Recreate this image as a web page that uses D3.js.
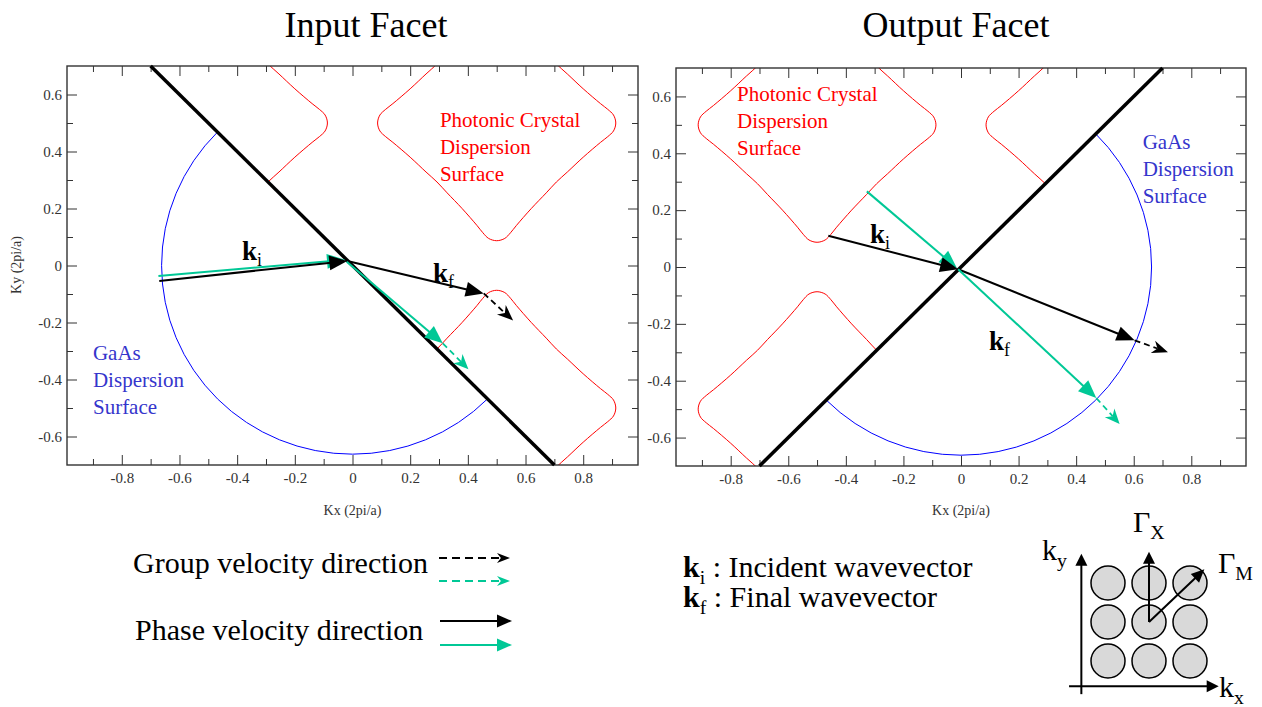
<!DOCTYPE html>
<html lang="en">
<head>
<meta charset="utf-8">
<title>Input / Output Facet</title>
<script src="https://cdn.jsdelivr.net/npm/d3@7"></script>
<style>
  body { margin:0; background:#fff; }
  svg text { font-family:"Liberation Serif","Times New Roman",serif; }
  .tick text { font-size:15px; fill:#333; }
  .tick line { stroke:#333; stroke-width:1; }
</style>
</head>
<body>
<script>
// axis ticks (2pi/a)
var xMajor = [-0.8, -0.6, -0.4, -0.2, 0, 0.2, 0.4, 0.6, 0.8];
var xMinor = [-0.9, -0.7, -0.5, -0.3, -0.1, 0.1, 0.3, 0.5, 0.7, 0.9];
var yMajor = [-0.6, -0.4, -0.2, 0, 0.2, 0.4, 0.6];
var yMinor = [-0.5, -0.3, -0.1, 0.1, 0.3, 0.5];
var xExtent = [-0.99, 0.99];
var yExtent = [-0.7, 0.7];

// photonic crystal iso-frequency contour, one quarter around an M point
var pcQuarter = [[0.413,0],[0.405,0.028],[0.385,0.048],[0.36,0.068],[0.30,0.12],[0.245,0.172],
                 [0.207,0.207],[0.172,0.245],[0.12,0.30],[0.068,0.36],[0.048,0.385],[0.028,0.405]];
var mPoints = [[0.5,0.5],[-0.5,0.5],[-0.5,-0.5],[0.5,-0.5]];
var gaasRadius = 0.662;

// input facet
var inFacet   = [[-0.7,0.7],[0.7,-0.7]];
var inBlackKi = [[-0.670,-0.054],[-0.018,0.016]];
var inGreenKi = [[-0.673,-0.037],[-0.026,0.020]];
var inBlackKf = [[-0.018,0.016],[0.455,-0.098]];
var inBlackVg = [[0.455,-0.098],[0.557,-0.193]];
var inGreenKf = [[-0.020,0.013],[0.313,-0.273]];
var inGreenVg = [[0.313,-0.273],[0.402,-0.364]];

// output facet
var outFacet   = [[-0.7,-0.7],[0.7,0.7]];
var outBlackKi = [[-0.461,0.110],[-0.010,-0.008]];
var outGreenKi = [[-0.327,0.266],[-0.014,-0.004]];
var outBlackKf = [[-0.010,-0.008],[0.603,-0.258]];
var outBlackVg = [[0.603,-0.258],[0.719,-0.300]];
var outGreenKf = [[-0.010,-0.008],[0.470,-0.461]];
var outGreenVg = [[0.470,-0.461],[0.551,-0.552]];

// lattice inset (lattice units)
var latticeCols = [0, 1, 2];
var latticeRows = [0, 1, 2];

var green = "#00c896", red = "#ff0000", blue = "#0000ff", gaasText = "#3535cc";

var w = 1262, h = 707;
var svg = d3.select("body").append("svg").attr("width", w).attr("height", h);

var defs = svg.append("defs");

function arrow(g, p1, p2, color, o) {
  o = o || {};
  var L = o.L || 18, W = o.W || 7.5, lw = o.width || 2;
  var dx = p2[0]-p1[0], dy = p2[1]-p1[1], len = Math.sqrt(dx*dx+dy*dy);
  var ux = dx/len, uy = dy/len, nx = -uy, ny = ux;
  var back = o.stealth ? 0.7*L : L*0.9;
  g.append("line")
    .attr("x1", p1[0]).attr("y1", p1[1])
    .attr("x2", p2[0]-back*ux).attr("y2", p2[1]-back*uy)
    .attr("stroke", color).attr("stroke-width", lw)
    .attr("stroke-dasharray", o.dash || null);
  var bx = p2[0]-L*ux, by = p2[1]-L*uy, pts;
  if (o.stealth) {
    pts = [[p2[0],p2[1]],[bx+W*nx,by+W*ny],[p2[0]-0.7*L*ux,p2[1]-0.7*L*uy],[bx-W*nx,by-W*ny]];
  } else {
    pts = [[p2[0],p2[1]],[bx+W*nx,by+W*ny],[bx-W*nx,by-W*ny]];
  }
  g.append("polygon").attr("points", pts.map(function(p){ return p.join(","); }).join(" "))
    .attr("fill", color);
}

function subLabel(g, x, y, main, sub, size, bold, rest) {
  var t = g.append("text").attr("x", x).attr("y", y).attr("font-size", size).attr("fill", "#000");
  t.append("tspan").attr("font-weight", bold ? "bold" : "normal").text(main);
  t.append("tspan").attr("font-size", size*0.66).attr("dy", size*0.22).text(sub);
  if (rest) t.append("tspan").attr("dy", -size*0.22).text(rest);
  return t;
}

function panel(id, box, cfg) {
  var x = d3.scaleLinear().domain(xExtent).range([box.x0, box.x1]);
  var y = d3.scaleLinear().domain(yExtent).range([box.y1, box.y0]);
  var g = svg.append("g");

  var toPts = function(arr){ return arr.map(function(d){ return [x(d[0]), y(d[1])].join(","); }).join(" "); };
  defs.append("clipPath").attr("id", id+"-red").append("polygon").attr("points", toPts(cfg.redSide));
  defs.append("clipPath").attr("id", id+"-blue").append("polygon").attr("points", toPts(cfg.blueSide));

  // photonic crystal contours
  var ring = [];
  [0,1,2,3].forEach(function(k){
    pcQuarter.forEach(function(p){
      var u = p[0], v = p[1];
      for (var i = 0; i < k; i++) { var t = u; u = -v; v = t; }
      ring.push([u, v]);
    });
  });
  var redG = g.append("g").attr("clip-path", "url(#"+id+"-red)");
  mPoints.forEach(function(c){
    var line = d3.line()
      .x(function(d){ return x(c[0]+d[0]); })
      .y(function(d){ return y(c[1]+d[1]); })
      .curve(d3.curveCatmullRomClosed.alpha(0.5));
    redG.append("path").attr("d", line(ring)).attr("fill", "none")
      .attr("stroke", red).attr("stroke-width", 1);
  });

  // GaAs circle
  g.append("g").attr("clip-path", "url(#"+id+"-blue)")
    .append("ellipse")
    .attr("cx", x(0)).attr("cy", y(0))
    .attr("rx", x(gaasRadius)-x(0)).attr("ry", y(0)-y(gaasRadius))
    .attr("fill", "none").attr("stroke", blue).attr("stroke-width", 1);

  // frame + axes
  var minor = function(ax, vals){ return ax.tickValues(vals).tickSize(-6).tickFormat(""); };
  var fmt = function(d){ return String(+d.toFixed(1)); };
  var clean = function(s){ s.select(".domain").remove(); };
  g.append("g").attr("transform", "translate(0,"+box.y1+")")
    .call(d3.axisBottom(x).tickValues(xMajor).tickSize(-10).tickPadding(7).tickFormat(fmt)).call(clean);
  g.append("g").attr("transform", "translate(0,"+box.y1+")").call(minor(d3.axisBottom(x), xMinor)).call(clean);
  g.append("g").attr("transform", "translate(0,"+box.y0+")")
    .call(d3.axisTop(x).tickValues(xMajor).tickSize(-10).tickFormat("")).call(clean);
  g.append("g").attr("transform", "translate(0,"+box.y0+")").call(minor(d3.axisTop(x), xMinor)).call(clean);
  g.append("g").attr("transform", "translate("+box.x0+",0)")
    .call(d3.axisLeft(y).tickValues(yMajor).tickSize(-10).tickPadding(5).tickFormat(fmt)).call(clean);
  g.append("g").attr("transform", "translate("+box.x0+",0)").call(minor(d3.axisLeft(y), yMinor)).call(clean);
  g.append("g").attr("transform", "translate("+box.x1+",0)")
    .call(d3.axisRight(y).tickValues(yMajor).tickSize(-10).tickFormat("")).call(clean);
  g.append("g").attr("transform", "translate("+box.x1+",0)").call(minor(d3.axisRight(y), yMinor)).call(clean);
  g.append("rect").attr("x", box.x0).attr("y", box.y0)
    .attr("width", box.x1-box.x0).attr("height", box.y1-box.y0)
    .attr("fill", "none").attr("stroke", "#333").attr("stroke-width", 1.4);

  g.append("text").attr("x", x(0)).attr("y", 515).attr("text-anchor", "middle")
    .attr("font-size", 14).attr("fill", "#333").text("Kx (2pi/a)");

  // facet
  g.append("line")
    .attr("x1", x(cfg.facet[0][0])).attr("y1", y(cfg.facet[0][1]))
    .attr("x2", x(cfg.facet[1][0])).attr("y2", y(cfg.facet[1][1]))
    .attr("stroke", "#000").attr("stroke-width", 3.5);

  // wavevectors
  var P = function(d){ return [x(d[0]), y(d[1])]; };
  arrow(g, P(cfg.greenKi[0]), P(cfg.greenKi[1]), green);
  arrow(g, P(cfg.blackKi[0]), P(cfg.blackKi[1]), "#000");
  arrow(g, P(cfg.blackKf[0]), P(cfg.blackKf[1]), "#000");
  arrow(g, P(cfg.greenKf[0]), P(cfg.greenKf[1]), green);
  arrow(g, P(cfg.blackVg[0]), P(cfg.blackVg[1]), "#000", {dash:"6,4", stealth:true, L:16, W:6.5, width:1.8});
  arrow(g, P(cfg.greenVg[0]), P(cfg.greenVg[1]), green, {dash:"6,4", stealth:true, L:15, W:6.5, width:1.8});

  subLabel(g, x(cfg.kiPos[0]), y(cfg.kiPos[1]), "k", "i", 27, true);
  subLabel(g, x(cfg.kfPos[0]), y(cfg.kfPos[1]), "k", "f", 27, true);

  // surface labels
  var pc = g.append("text").attr("font-size", 21).attr("fill", red);
  ["Photonic Crystal", "Dispersion", "Surface"].forEach(function(s, i){
    pc.append("tspan").attr("x", x(cfg.pcPos[0])).attr("y", y(cfg.pcPos[1]) + i*27).text(s);
  });
  var ga = g.append("text").attr("font-size", 21).attr("fill", gaasText);
  ["GaAs", "Dispersion", "Surface"].forEach(function(s, i){
    ga.append("tspan").attr("x", x(cfg.gaPos[0])).attr("y", y(cfg.gaPos[1]) + i*27).text(s);
  });
  return {x:x, y:y};
}

var inBox = {x0:67, x1:638, y0:66, y1:465};
var outBox = {x0:676, x1:1246, y0:68, y1:466};

panel("in", inBox, {
  facet: inFacet,
  redSide: [[-0.7,0.7],[0.99,0.7],[0.99,-0.7],[0.7,-0.7]],
  blueSide: [[-0.99,0.7],[-0.7,0.7],[0.7,-0.7],[-0.99,-0.7]],
  blackKi: inBlackKi, greenKi: inGreenKi, blackKf: inBlackKf, greenKf: inGreenKf,
  blackVg: inBlackVg, greenVg: inGreenVg,
  kiPos: [-0.383, 0.019], kfPos: [0.279, -0.057],
  pcPos: [0.303, 0.487], gaPos: [-0.90, -0.331]
});

panel("out", outBox, {
  facet: outFacet,
  redSide: [[-0.99,0.7],[0.7,0.7],[-0.7,-0.7],[-0.99,-0.7]],
  blueSide: [[0.7,0.7],[0.99,0.7],[0.99,-0.7],[-0.7,-0.7]],
  blackKi: outBlackKi, greenKi: outGreenKi, blackKf: outBlackKf, greenKf: outGreenKf,
  blackVg: outBlackVg, greenVg: outGreenVg,
  kiPos: [-0.316, 0.085], kfPos: [0.097, -0.291],
  pcPos: [-0.778, 0.583], gaPos: [0.631, 0.416]
});

svg.append("text").attr("transform", "translate(21,265) rotate(-90)")
  .attr("text-anchor", "middle").attr("font-size", 14).attr("fill", "#333").text("Ky (2pi/a)");

// titles
svg.append("text").attr("x", 366).attr("y", 37).attr("text-anchor", "middle")
  .attr("font-size", 36).text("Input Facet");
svg.append("text").attr("x", 956).attr("y", 37).attr("text-anchor", "middle")
  .attr("font-size", 36).text("Output Facet");

// legend
var lg = svg.append("g");
lg.append("text").attr("x", 133).attr("y", 573).attr("font-size", 30).text("Group velocity direction");
lg.append("text").attr("x", 135).attr("y", 640).attr("font-size", 30).text("Phase velocity direction");
arrow(lg, [439,558], [510,558], "#000", {dash:"8,5", stealth:true, L:13, W:5, width:1.8});
arrow(lg, [439,581], [510,581], green, {dash:"8,5", stealth:true, L:13, W:5, width:1.8});
arrow(lg, [440,621], [512,621], "#000", {L:15, W:6.5, width:2});
arrow(lg, [440,645], [512,645], green, {L:15, W:6.5, width:2});

subLabel(svg, 683, 577, "k", "i", 30, true, " : Incident wavevector");
subLabel(svg, 683, 607, "k", "f", 30, true, " : Final wavevector");

// lattice inset
var ix = d3.scaleLinear().domain([0, 2]).range([1108, 1190]);
var iy = d3.scaleLinear().domain([0, 2]).range([661, 583]);
var ins = svg.append("g");
latticeRows.forEach(function(r){
  latticeCols.forEach(function(c){
    ins.append("circle").attr("cx", ix(c)).attr("cy", iy(r)).attr("r", 17)
      .attr("fill", "#d9d9d9").attr("stroke", "#000").attr("stroke-width", 1.5);
  });
});
arrow(ins, [ix(-0.65), iy(-0.85)], [ix(-0.65), iy(2.75)], "#000", {L:12, W:6, width:2});
arrow(ins, [ix(-0.95), iy(-0.65)], [ix(2.7), iy(-0.65)], "#000", {L:12, W:6, width:2});
arrow(ins, [ix(1), iy(1)], [ix(1), iy(2.8)], "#000", {L:12, W:6, width:2});
arrow(ins, [ix(1), iy(1)], [ix(2.35), iy(2.35)], "#000", {L:13, W:6, width:2});
subLabel(ins, 1042, 560, "k", "y", 30, false);
subLabel(ins, 1219, 697, "k", "x", 30, false);
subLabel(ins, 1133, 532, "\u0393", "X", 30, false);
subLabel(ins, 1218, 573, "\u0393", "M", 30, false);
</script>
</body>
</html>
